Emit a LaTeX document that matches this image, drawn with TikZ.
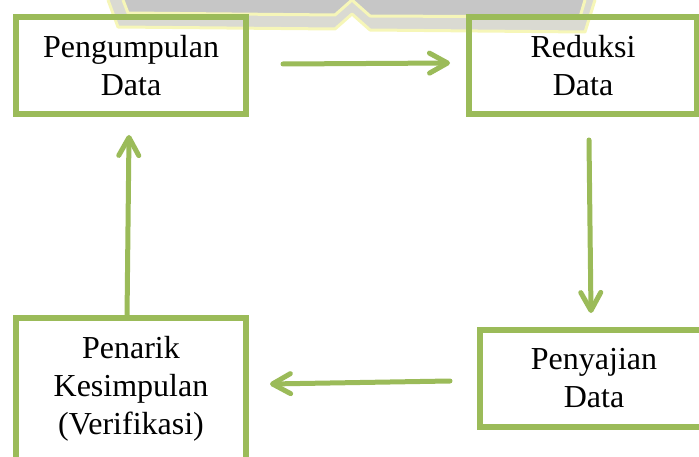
\documentclass[tikz,border=0pt]{standalone}
\usepackage{fontspec}
\setmainfont{Liberation Serif}
\usetikzlibrary{arrows.meta}
\definecolor{accentgreen}{HTML}{9BBB59}
\definecolor{markgray}{HTML}{C6C6C6}
\definecolor{marklight}{HTML}{DADAD2}
\definecolor{markyellow}{HTML}{F6F6B8}

\begin{document}
\begin{tikzpicture}[
    x=1pt, y=1pt,
    every node/.style={font=\fontsize{32}{38}\selectfont},
    stage/.style={draw=accentgreen, line width=5.5pt, rectangle, align=center, minimum width=230pt, minimum height=97pt, inner sep=0pt, outer sep=0pt},
    flow/.style={draw=accentgreen, line width=5pt, line cap=round, -{Straight Barb[length=18pt, width=20pt, round]}},
    crest/.style={draw=markyellow, line width=3pt, line join=round}
]
\useasboundingbox (0,0) rectangle (699,456);
\clip (0,0) rectangle (699,456);

% faint watermark at the top
\fill[marklight] (108,456) -- (118,429) -- (335,427) -- (352,442) -- (370,426) -- (585,424) -- (595,456) -- cycle;
\fill[markgray] (123,456) -- (128,443) -- (335,441) -- (352,456) -- (370,440) -- (580,439) -- (585,456) -- cycle;
\draw[crest] (108,456) -- (118,429) -- (335,427) -- (352,442) -- (370,426) -- (585,424) -- (595,456);
\draw[crest] (123,456) -- (128,443) -- (335,441) -- (352,456) -- (370,440) -- (580,439) -- (585,456);

\node[stage] (collect) at (131,390.5) {Pengumpulan\\Data};
\node[stage, minimum width=228pt] (reduce) at (583,390.5) {Reduksi\\Data};
\node[stage, minimum width=228pt] (present) at (594,77.5) {Penyajian\\Data};
\node[stage, minimum height=142pt] (conclude) at (131,67) {Penarik\\Kesimpulan\\(Verifikasi)};

\draw[flow] ([xshift=37pt, yshift=1.5pt]collect.east) -- ([xshift=-19pt, yshift=2.5pt]reduce.west);
\draw[flow] ([xshift=6pt, yshift=-26pt]reduce.south) -- ([xshift=-3pt, yshift=17pt]present.north);
\draw[flow] ([xshift=-30pt, yshift=-2.5pt]present.west) -- ([xshift=24pt, yshift=5pt]conclude.east);
\draw[flow] ([xshift=-4pt]conclude.north) -- ([xshift=-2pt, yshift=-21pt]collect.south);
\end{tikzpicture}
\end{document}
